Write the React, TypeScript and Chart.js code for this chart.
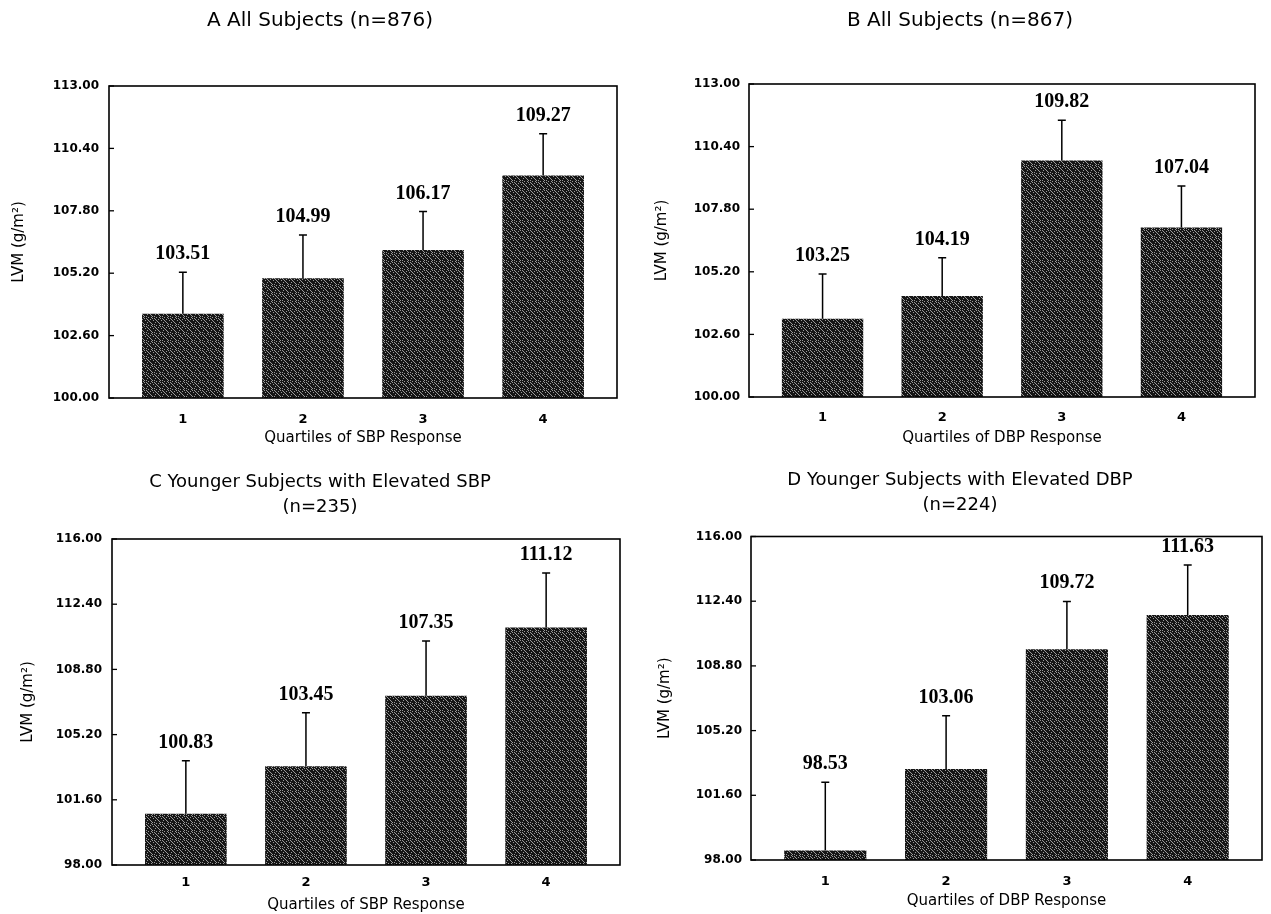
import React, { useEffect, useRef } from 'react';
import { Chart, registerables } from 'chart.js';

Chart.register(...registerables);

// ---------- data ----------
const quartiles = ['1', '2', '3', '4'];
const xPositions = [1, 2, 3, 4];

const titleA = ['A All Subjects (n=876)'];
const titleB = ['B All Subjects (n=867)'];
const titleC = ['C Younger Subjects with Elevated SBP', '(n=235)'];
const titleD = ['D Younger Subjects with Elevated DBP', '(n=224)'];

const xTitleSBP = 'Quartiles of SBP Response';
const xTitleDBP = 'Quartiles of DBP Response';
const yTitle = 'LVM (g/m²)';

const valuesA = [103.51, 104.99, 106.17, 109.27];
const errorsA = [1.73, 1.8, 1.6, 1.74];
const valuesB = [103.25, 104.19, 109.82, 107.04];
const errorsB = [1.86, 1.59, 1.67, 1.72];
const valuesC = [100.83, 103.45, 107.35, 111.12];
const errorsC = [2.92, 2.95, 3.02, 3.0];
const valuesD = [98.53, 103.06, 109.72, 111.63];
const errorsD = [3.8, 2.97, 2.67, 2.79];

const yTicksAB = [100, 102.6, 105.2, 107.8, 110.4, 113];
const yTicksCD = [98, 101.6, 105.2, 108.8, 112.4, 116];

// ---------- layout of each panel ----------
type Panel = {
  left: number; top: number; width: number; height: number;
  title: string[]; titleFirstY: number; titleLineH: number; titleSize: number; titleCenterX: number;
  plotLeft: number; plotTop: number; plotRight: number; plotBottom: number;
  tickEndX: number; yTitleX: number; xTickY: number; xTitleY: number;
  values: number[]; errors: number[]; yTicks: number[]; xTitle: string;
};

const panels: Panel[] = [
  { left: 0, top: 0, width: 640, height: 450, title: titleA, titleFirstY: 21, titleLineH: 24, titleSize: 20, titleCenterX: 320,
    plotLeft: 109, plotTop: 86, plotRight: 617, plotBottom: 398, tickEndX: 99, yTitleX: 19,
    xTickY: 420, xTitleY: 438, values: valuesA, errors: errorsA, yTicks: yTicksAB, xTitle: xTitleSBP },
  { left: 640, top: 0, width: 631, height: 450, title: titleB, titleFirstY: 21, titleLineH: 24, titleSize: 20, titleCenterX: 320,
    plotLeft: 109, plotTop: 84, plotRight: 615, plotBottom: 397, tickEndX: 100, yTitleX: 22,
    xTickY: 418, xTitleY: 438, values: valuesB, errors: errorsB, yTicks: yTicksAB, xTitle: xTitleDBP },
  { left: 0, top: 450, width: 640, height: 464, title: titleC, titleFirstY: 32, titleLineH: 25, titleSize: 18, titleCenterX: 320,
    plotLeft: 112, plotTop: 89, plotRight: 620, plotBottom: 415, tickEndX: 102, yTitleX: 28,
    xTickY: 433, xTitleY: 455, values: valuesC, errors: errorsC, yTicks: yTicksCD, xTitle: xTitleSBP },
  { left: 640, top: 450, width: 631, height: 464, title: titleD, titleFirstY: 30, titleLineH: 25, titleSize: 18, titleCenterX: 320,
    plotLeft: 111, plotTop: 86.5, plotRight: 622, plotBottom: 410, tickEndX: 102, yTitleX: 25,
    xTickY: 431.5, xTitleY: 451.5, values: valuesD, errors: errorsD, yTicks: yTicksCD, xTitle: xTitleDBP },
];

const SANS = '"DejaVu Sans", sans-serif';
const SERIF = '"Liberation Serif", "DejaVu Serif", serif';

function makePattern(): CanvasPattern | string {
  const c = document.createElement('canvas');
  c.width = 8; c.height = 8;
  const g = c.getContext('2d');
  if (!g) return '#2a2a2a';
  g.fillStyle = '#161616';
  g.fillRect(0, 0, 8, 8);
  g.fillStyle = '#9a9a9a';
  const specks = [[1, 0], [5, 1], [3, 2], [7, 3], [0, 4], [4, 5], [2, 6], [6, 7], [6, 2], [2, 4], [4, 0], [0, 6], [7, 5], [3, 7]];
  specks.forEach(([x, y]) => g.fillRect(x, y, 1, 1));
  return g.createPattern(c, 'repeat') || '#2a2a2a';
}

function PanelChart({ p }: { p: Panel }) {
  const ref = useRef<HTMLCanvasElement | null>(null);
  useEffect(() => {
    const canvas = ref.current;
    if (!canvas) return;
    const pattern = makePattern();
    const lineHeight = p.titleLineH / p.titleSize;
    const titlePadTop = p.titleFirstY - p.titleLineH / 2;
    const titlePadBottom = p.plotTop - titlePadTop - p.titleLineH * p.title.length;
    const padLeft = Math.max(0, 2 * p.titleCenterX - p.plotRight);
    const xTickFont = 13;
    const xTitleFont = 15;
    const yTitleFont = 15;

    const framePlugin = {
      id: 'frameAndErrors',
      afterDatasetsDraw(chart: any) {
        const { ctx, chartArea } = chart;
        const ys = chart.scales.y;
        ctx.save();
        const meta = chart.getDatasetMeta(0);
        ctx.strokeStyle = '#000';
        ctx.fillStyle = '#000';
        ctx.lineWidth = 1.5;
        meta.data.forEach((bar: any, i: number) => {
          const topY = ys.getPixelForValue(p.values[i] + p.errors[i]);
          ctx.beginPath();
          ctx.moveTo(bar.x, bar.y);
          ctx.lineTo(bar.x, topY);
          ctx.moveTo(bar.x - 4, topY);
          ctx.lineTo(bar.x + 4, topY);
          ctx.stroke();
          ctx.font = `bold 20px ${SERIF}`;
          ctx.textAlign = 'center';
          ctx.textBaseline = 'alphabetic';
          ctx.fillText(p.values[i].toFixed(2), bar.x, topY - 13);
        });
        ctx.lineWidth = 1.6;
        ctx.strokeRect(chartArea.left, chartArea.top, chartArea.right - chartArea.left, chartArea.bottom - chartArea.top);
        ctx.lineWidth = 1.3;
        p.yTicks.forEach((v) => {
          const y = ys.getPixelForValue(v);
          ctx.beginPath();
          ctx.moveTo(chartArea.left, y);
          ctx.lineTo(chartArea.left + 5, y);
          ctx.stroke();
        });
        ctx.restore();
      },
    };

    const chart = new Chart(canvas, {
      type: 'bar',
      data: {
        datasets: [
          {
            data: p.values.map((v, i) => ({ x: xPositions[i], y: v })),
            backgroundColor: pattern as any,
            borderWidth: 0,
            barPercentage: 0.68,
            categoryPercentage: 1,
          },
        ],
      },
      options: {
        responsive: false,
        animation: false,
        devicePixelRatio: 1,
        layout: { padding: { left: padLeft, top: 0, right: p.width - p.plotRight, bottom: 0 } },
        plugins: {
          legend: { display: false },
          tooltip: { enabled: false },
          title: {
            display: true,
            text: p.title,
            color: '#000',
            font: { family: SANS, size: p.titleSize, weight: 'normal', lineHeight },
            padding: { top: titlePadTop, bottom: titlePadBottom },
          },
        },
        scales: {
          x: {
            type: 'linear',
            offset: false,
            min: 0.385,
            max: 4.615,
            grid: { display: false, drawTicks: false, offset: false },
            border: { display: false },
            afterBuildTicks: (s: any) => { s.ticks = xPositions.map((v) => ({ value: v })); },
            afterFit: (s: any) => { s.height = p.height - p.plotBottom; },
            ticks: {
              color: '#000',
              font: { family: SANS, size: xTickFont, weight: 'bold' },
              padding: p.xTickY - p.plotBottom - (xTickFont * 1.2) / 2,
              maxRotation: 0,
              autoSkip: false,
              callback: (v: any) => quartiles[xPositions.indexOf(Number(v))] ?? '',
            },
            title: {
              display: true,
              text: p.xTitle,
              color: '#000',
              font: { family: SANS, size: xTitleFont, weight: 'normal' },
              padding: { top: 0, bottom: p.height - p.xTitleY - (xTitleFont * 1.2) / 2 },
            },
          },
          y: {
            type: 'linear',
            min: p.yTicks[0],
            max: p.yTicks[p.yTicks.length - 1],
            grid: { display: false, drawTicks: false },
            border: { display: false },
            afterBuildTicks: (s: any) => { s.ticks = p.yTicks.map((v) => ({ value: v })); },
            afterFit: (s: any) => { s.width = p.plotLeft - padLeft; },
            ticks: {
              color: '#000',
              font: { family: SANS, size: 12, weight: 'bold' },
              padding: p.plotLeft - p.tickEndX,
              callback: (v: any) => Number(v).toFixed(2),
            },
            title: {
              display: true,
              text: yTitle,
              color: '#000',
              font: { family: SANS, size: yTitleFont, weight: 'normal' },
              padding: { top: p.yTitleX - padLeft - (yTitleFont * 1.2) / 2, bottom: 0 },
            },
          },
        },
      } as any,
      plugins: [framePlugin],
    });
    return () => chart.destroy();
  }, [p]);
  return (
    <canvas
      ref={ref}
      width={p.width}
      height={p.height}
      style={{ position: 'absolute', left: p.left, top: p.top, width: p.width, height: p.height }}
    />
  );
}

export default function App() {
  return (
    <div style={{ position: 'absolute', left: 0, top: 0, width: 1271, height: 914, overflow: 'hidden', background: '#fff' }}>
      {panels.map((p, i) => (
        <PanelChart key={i} p={p} />
      ))}
    </div>
  );
}
